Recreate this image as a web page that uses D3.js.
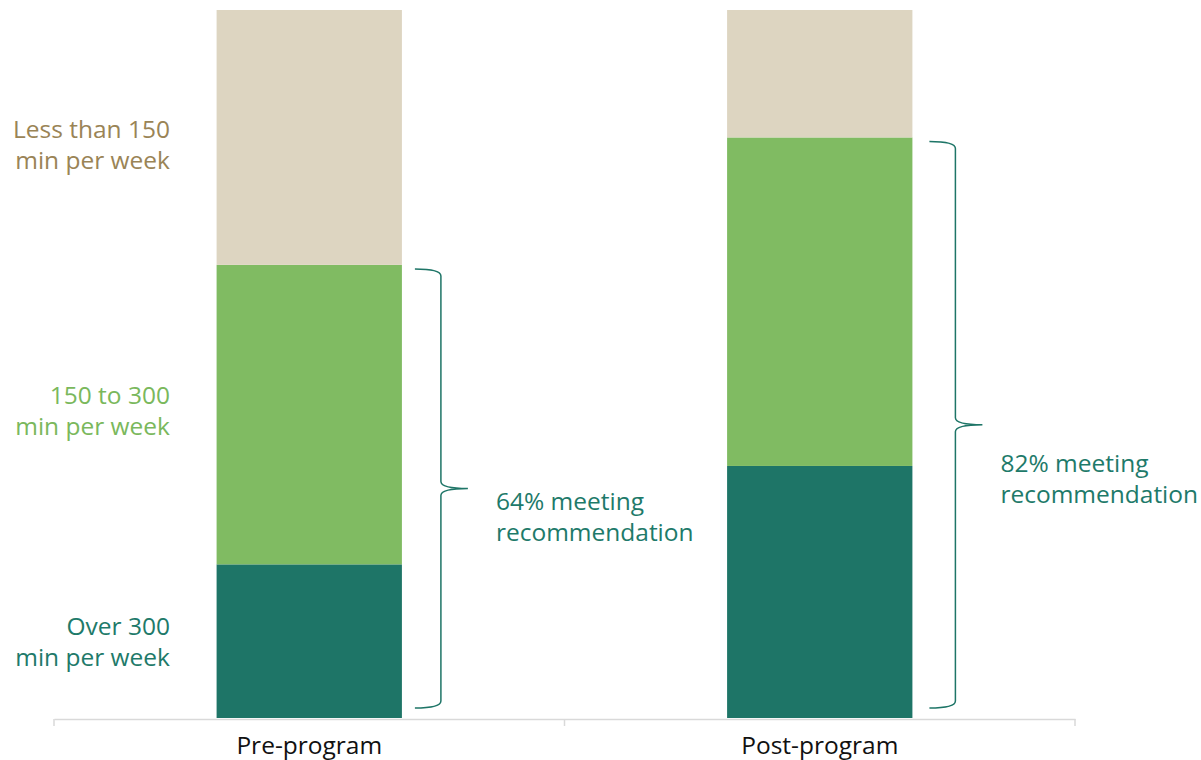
<!DOCTYPE html>
<html>
<head>
<meta charset="utf-8">
<script src="https://cdn.jsdelivr.net/npm/d3@7"></script>
<style>
  html, body { margin: 0; padding: 0; background: #ffffff; }
  svg { display: block; font-family: "Open Sans", "Noto Sans", sans-serif; }
</style>
</head>
<body>
<svg id="chart" width="1201" height="760"></svg>
<script>
// Share of participants by weekly activity, before and after the programme (%)
const programs = ["Pre-program", "Post-program"];
const over300 = [21.7, 35.6];
const from150to300 = [42.3, 46.4];
const under150 = [36, 18];
const meetingLabels = ["64% meeting", "82% meeting"];
const bandNames = ["Over 300|min per week", "150 to 300|min per week", "Less than 150|min per week"];

const barColors = ["#1e7567", "#80bb62", "#ddd5c1"];
const textColors = ["#1e7a6a", "#7ab85c", "#9a8456"];
const teal = "#1e7567";

const svg = d3.select("#chart");
const fontSize = 24.5;

const x = d3.scaleBand()
  .domain(programs)
  .range([54, 1075])
  .paddingInner(0.637)
  .paddingOuter(0.3185);

const y = d3.scaleLinear().domain([0, 100]).range([718, 10]);

// stacked data
const rows = programs.map((p, i) => ({
  program: p, over: over300[i], mid: from150to300[i], under: under150[i]
}));
const stack = d3.stack().keys(["over", "mid", "under"]);
const series = stack(rows);

svg.append("g").selectAll("g")
  .data(series)
  .join("g")
  .attr("fill", (d, i) => barColors[i])
  .selectAll("rect")
  .data(d => d)
  .join("rect")
  .attr("x", d => x(d.data.program))
  .attr("width", x.bandwidth())
  .attr("y", d => y(d[1]))
  .attr("height", d => y(d[0]) - y(d[1]));

// category axis: baseline with ticks at category boundaries
const axis = d3.axisBottom(x).tickSize(0).tickSizeOuter(0);
const gx = svg.append("g").attr("transform", "translate(0,719)").call(axis);
gx.select(".domain").attr("stroke", "#d9d9d9").attr("stroke-width", 1.5);
gx.selectAll(".tick").remove();
const [r0, r1] = x.range();
const boundaries = [r0, (r0 + r1) / 2, r1];
svg.append("g").selectAll("line")
  .data(boundaries)
  .join("line")
  .attr("x1", d => d).attr("x2", d => d)
  .attr("y1", 719).attr("y2", 726)
  .attr("stroke", "#d9d9d9").attr("stroke-width", 1.5);
svg.append("g").selectAll("text")
  .data(programs)
  .join("text")
  .attr("x", d => x(d) + x.bandwidth() / 2)
  .attr("y", 754)
  .attr("text-anchor", "middle")
  .attr("font-size", fontSize)
  .attr("fill", "#111")
  .text(d => d);

// band labels beside the first bar
const first = series.map(s => s[0]);
const lineH = 31;
const bandShift = [1, -3, 8];
svg.append("g").selectAll("text")
  .data(first)
  .join("text")
  .attr("text-anchor", "end")
  .attr("font-size", fontSize)
  .attr("fill", (d, i) => textColors[i])
  .each(function (d, i) {
    const mid = (y(d[0]) + y(d[1])) / 2 + bandShift[i];
    const lines = bandNames[i].split("|");
    d3.select(this).selectAll("tspan")
      .data(lines)
      .join("tspan")
      .attr("x", 170)
      .attr("y", (l, k) => mid + (k - (lines.length - 1) / 2) * lineH + 8)
      .text(l => l);
  });

// braces spanning the share meeting the recommendation
function bracePath(x0, top, bottom, w, tipW) {
  const mid = (top + bottom) / 2;
  const xv = x0 + w;
  const r = 7;
  return `M${x0},${top}` +
    `Q${xv},${top} ${xv},${top + r}` +
    `L${xv},${mid - r}` +
    `Q${xv},${mid} ${xv + tipW},${mid}` +
    `Q${xv},${mid} ${xv},${mid + r}` +
    `L${xv},${bottom - r}` +
    `Q${xv},${bottom} ${x0},${bottom}`;
}

const braceGap = [13, 17];
const labelGap = [81, 71];
const labelOffsets = [29, 55];
rows.forEach((r, i) => {
  const met = r.over + r.mid;
  const top = y(met) + 4;
  const bottom = y(0) - 10;
  const x0 = x(r.program) + x.bandwidth() + braceGap[i];
  svg.append("path")
    .attr("d", bracePath(x0, top, bottom, 26, 27))
    .attr("fill", "none")
    .attr("stroke", teal)
    .attr("stroke-width", 1.5);
  const mid = (top + bottom) / 2;
  const t = svg.append("text")
    .attr("font-size", fontSize)
    .attr("fill", "#1e7a6a");
  [meetingLabels[i], "recommendation"].forEach((l, k) => {
    t.append("tspan")
      .attr("x", x0 + labelGap[i])
      .attr("y", mid + labelOffsets[i] + (k - 0.5) * lineH + 8)
      .text(l);
  });
});
</script>
</body>
</html>
